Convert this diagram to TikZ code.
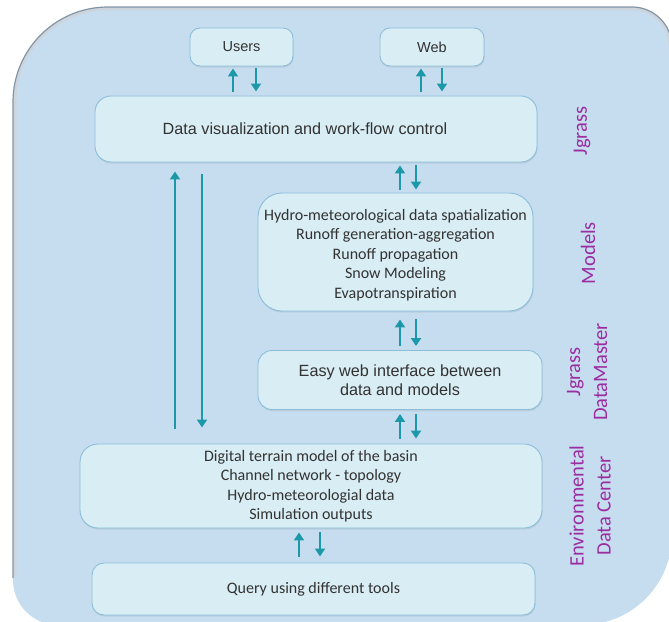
\documentclass[tikz,border=0pt]{standalone}
\usepackage{fontspec}
\setmainfont{Carlito}
\newfontfamily\arialf{Liberation Sans}
\usetikzlibrary{arrows.meta,calc,shadows}
\definecolor{bgblue}{RGB}{198,221,240}
\definecolor{boxfill}{RGB}{217,237,244}
\definecolor{boxline}{RGB}{140,190,218}
\definecolor{teal}{RGB}{28,152,168}
\definecolor{purp}{RGB}{155,45,160}
\definecolor{txt}{RGB}{50,50,50}
\definecolor{edge}{RGB}{130,148,165}
\tikzset{
  box/.style={draw=boxline, line width=0.9pt, fill=boxfill, rounded corners=#1,
    inner sep=0pt, align=center, text=txt,
    drop shadow={opacity=0.18, shadow xshift=0.6pt, shadow yshift=-1.6pt}},
  box/.default=12pt,
  arr/.style={draw=teal, line width=2.4pt, -{Triangle[length=8pt,width=10pt]}},
  side/.style={text=purp, rotate=90, align=center, font=\fontsize{20.5}{27}\selectfont},
  sans/.style={font=\arialf\fontsize{16.2}{19}\selectfont},
  cal/.style={font=\fontsize{16}{19.5}\selectfont}
}
\begin{document}
\begin{tikzpicture}[x=1pt,y=-1pt]
\useasboundingbox (0,0) rectangle (669,621);
\clip (0,0) rectangle (669,621);
% background panel
\fill[bgblue] (13,580) -- (13,102) arc[start angle=180,end angle=270,radius=95]
  -- (632,7) arc[start angle=270,end angle=360,radius=40]
  -- (672,535) arc[start angle=0,end angle=90,radius=90]
  -- (58,625) arc[start angle=90,end angle=180,radius=45] -- cycle;
\draw[edge!40, line width=2.5pt] (15,575) -- (15,102) arc[start angle=180,end angle=270,radius=93]
  -- (632,9) arc[start angle=270,end angle=360,radius=38] -- (670,60);
\draw[edge, line width=1.2pt] (13,578) -- (13,102) arc[start angle=180,end angle=270,radius=95]
  -- (632,7) arc[start angle=270,end angle=360,radius=40] -- (672,60);

% boxes
\node[box=10pt, minimum width=103, minimum height=38, font=\arialf\fontsize{14.5}{17}\selectfont] (users) at (241.5,47) {Users};
\node[box=10pt, minimum width=104, minimum height=38, font=\arialf\fontsize{14.5}{17}\selectfont] (web) at (432,47) {Web};
\node[box=16pt, minimum width=442, minimum height=66,
  label={[sans, text=txt, xshift=-11]center:Data visualization and work-flow control}] (dv) at (316,129) {};
\node[box=24pt, minimum width=275, minimum height=118,
  label={[cal, text=txt, align=center, yshift=-3]center:Hydro-meteorological data spatialization\\Runoff generation-aggregation\\Runoff propagation\\Snow Modeling\\Evapotranspiration}] (models) at (395.5,252) {};
\node[box=14pt, minimum width=284, minimum height=59, sans] (easy) at (400,380)
  {Easy web interface between\\data and models};
\node[box=18pt, minimum width=462, minimum height=84, cal] (dtm) at (311,486)
  {Digital terrain model of the basin\\Channel network - topology\\Hydro-meteorologial data\\Simulation outputs};
\node[box=12pt, minimum width=443, minimum height=52, cal] (query) at (313.5,589)
  {Query using different tools};

% side labels
\node[side] (l1) at (582,131) {Jgrass};
\node[side] (l2) at (588,253) {Models};
\node[side] (l3) at (587,372) {Jgrass\\DataMaster};
\node[side] (l4) at (590,506) {Environmental\\Data Center};

% arrow x positions
\coordinate (u1) at ($(users.south)+(-8.5,0)$);
\coordinate (u2) at ($(users.south)+(14.5,0)$);
\coordinate (w1) at ($(web.south)+(-11,0)$);
\coordinate (w2) at ($(web.south)+(10,0)$);
\coordinate (m1) at ($(models.north)+(4.5,0)$);
\coordinate (m2) at ($(models.north)+(20.5,0)$);
\coordinate (q1) at ($(query.north)+(-14.5,0)$);
\coordinate (q2) at ($(query.north)+(6.5,0)$);
\coordinate (v1) at ($(dv.south)+(-141,0)$);
\coordinate (v2) at ($(dv.south)+(-114,0)$);

\draw[arr, shorten <=4pt, shorten >=2pt] (u1 |- dv.north) -- (u1);
\draw[arr, shorten <=2pt, shorten >=4pt] (u2) -- (u2 |- dv.north);
\draw[arr, shorten <=4pt, shorten >=2pt] (w1 |- dv.north) -- (w1);
\draw[arr, shorten <=2pt, shorten >=4pt] (w2) -- (w2 |- dv.north);

\draw[arr, shorten <=3pt, shorten >=3pt] (m1) -- (m1 |- dv.south);
\draw[arr, shorten <=3pt, shorten >=3pt] (m2 |- dv.south) -- (m2);

\draw[arr, shorten <=4pt, shorten >=8pt] (m1 |- easy.north) -- (m1 |- models.south);
\draw[arr, shorten <=8pt, shorten >=4pt] (m2 |- models.south) -- (m2 |- easy.north);

\draw[arr, shorten <=5pt, shorten >=4pt] (m1 |- dtm.north) -- (m1 |- easy.south);
\draw[arr, shorten <=4pt, shorten >=5pt] (m2 |- easy.south) -- (m2 |- dtm.north);

\draw[arr, shorten <=6pt, shorten >=4pt] (q1) -- (q1 |- dtm.south);
\draw[arr, shorten <=4pt, shorten >=6pt] (q2 |- dtm.south) -- (q2);

\draw[arr, shorten <=15pt, shorten >=9pt] (v1 |- dtm.north) -- (v1);
\draw[arr, shorten <=12pt, shorten >=16pt] (v2) -- (v2 |- dtm.north);
\end{tikzpicture}
\end{document}
